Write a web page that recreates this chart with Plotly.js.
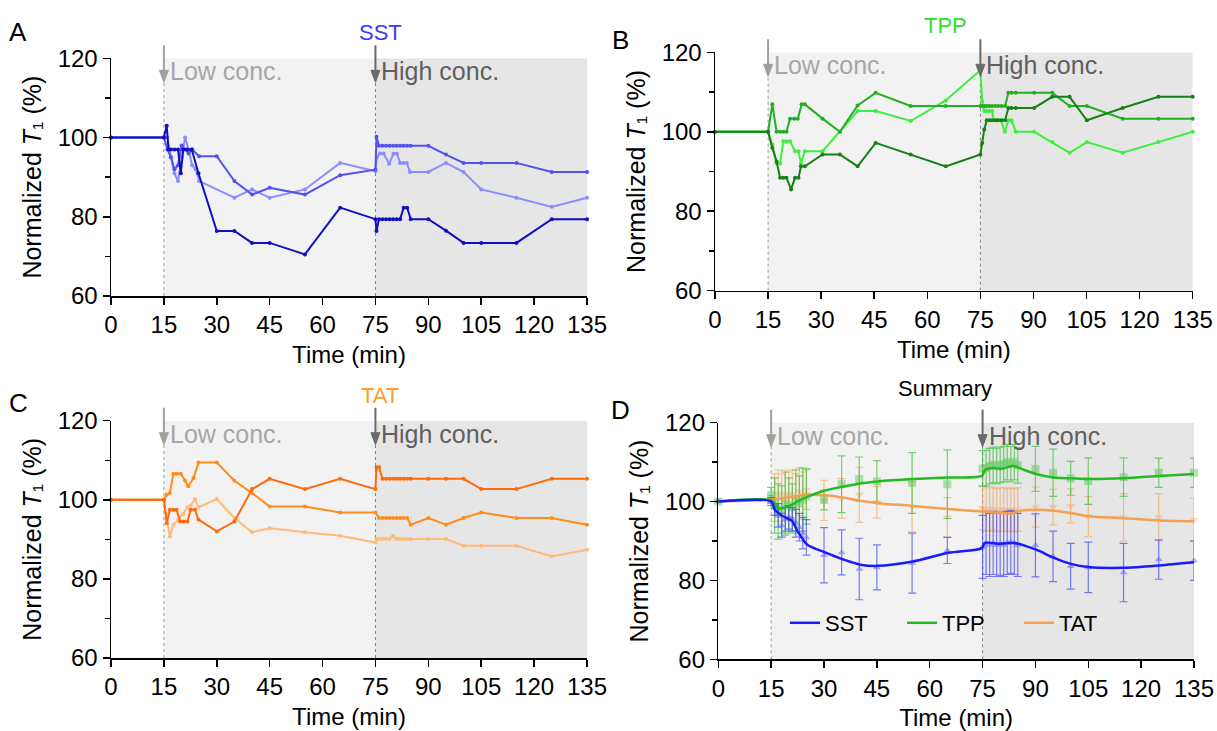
<!DOCTYPE html>
<html>
<head>
<meta charset="utf-8">
<script src="https://cdn.plot.ly/plotly-3.0.1.min.js"></script>
<style>html,body{margin:0;padding:0;background:#fff;}#chart{width:1217px;height:731px;}</style>
</head>
<body>
<div id="chart"></div>
<script>
// ---------------- DATA ----------------
// Panel A (SST individual)
const sstA1_t = [0,15,15.8,16.3,17,18,19,19.8,20.5,21.6,22.9,24.8,30,35,40,45,55,65,75,75.3,76,77,78,79,80,81,82,83,84,85,90,95,100,105,115,125,135];
const sstA1_v = [100,100,103,97,97,97,97,91,97,97,97,91,76.4,76.4,73.4,73.4,70.5,82.3,79.4,76.4,79.4,79.4,79.4,79.4,79.4,79.4,79.4,82.3,82.3,79.4,79.4,76.5,73.4,73.4,73.4,79.4,79.4];
const sstA2_t = [0,15,16,17,18,19,20,21,22,23,25,30,35,40,45,55,65,75,75.3,76,77,78,79,80,81,82,83,84,85,90,95,100,105,115,125,135];
const sstA2_v = [100,100,97,95,92,93,98,97,96,97,95.3,95.3,89,85.6,87.3,85.6,90.5,91.9,100.2,97.9,97.9,97.9,97.9,97.9,97.9,97.9,97.9,97.9,97.9,97.9,95.7,93.6,93.6,93.6,91.3,91.3];
const sstA3_t = [0,15,16,17,18,19,20,21,22,23,24,25,35,40,45,55,65,75,75.4,76.3,77.3,78.9,80.1,81.1,82,83,83.9,84.8,90,95,100,105,115,125,135];
const sstA3_v = [100,100,100,95,91,89,95,100,97,93,92,89,84.8,86.9,84.8,86.9,93.6,91.5,95.1,96,96,93.4,95.9,95.9,93.6,93.6,93.6,91.3,91.3,93.6,91.3,86.9,84.8,82.5,84.8];

// Panel B (TPP individual)
const tppB1_t = [0,15,16.2,17.4,18.4,19.3,20.2,21.5,22.6,23.6,24.3,25.4,30.4,35.3,40.3,45.4,55.3,65.2,75,75.5,76.1,76.8,77.5,78.3,79.2,80,81,82,82.9,83.8,85,90.2,95.3,100.2,105.1,115.2,125.3,135];
const tppB1_v = [100,100,96,92.5,88.4,88.4,88.4,85.5,88.4,88.4,91.3,91.3,94.3,94.3,91.3,97.2,94.3,91.3,94.3,97.2,100.6,102.9,102.9,102.9,102.9,102.9,102.9,102.9,106,106,106,106,108.8,108.8,102.9,106,108.8,108.8];
const tppB2_t = [0,15,16.2,17.4,18.4,19.3,20.2,21.2,22.4,23.4,24.5,25.4,30.4,35.3,40.3,45.4,55.3,65.2,75,75.5,76.1,76.8,77.5,78.3,79.2,80,81,82,82.9,83.8,85,90.2,95.3,100.2,105.1,115.2,125.3,135];
const tppB2_v = [100,100,106.9,100,100,100,100,103.3,103.3,103.3,106.9,106.9,103.3,100,106.6,109.8,106.5,106.5,106.5,106.5,106.5,106.5,106.5,106.5,106.5,106.5,106.5,106.5,109.8,109.8,109.8,109.8,109.8,106.5,106.5,103.3,103.3,103.3];
const tppB3_t = [0,15,16.2,17.4,18.4,19.3,20.2,21.2,22.6,23.6,24.3,25.4,30.4,35.3,40.3,45.4,55.3,65.2,75,75.5,76.1,76.8,77.5,78.3,78.8,79.8,80.8,81.9,82.9,83.8,85,90.2,95.3,100.2,105.1,115.2,125.3,135];
const tppB3_v = [100,100,96.8,92,92,97.6,97.6,97.6,95.1,95.1,92,95.1,95.1,100,105.2,105.2,102.7,107.9,115.5,107.7,105.2,105.2,105.2,105.2,102.9,102.9,102.9,100,102.9,102.9,100,100,97.4,94.7,97.4,94.7,97.4,100];

// Panel C (TAT individual)
const tatC1_t = [0,15,15.8,16.7,17.7,18.6,19.6,20.6,21.7,22.6,23.8,24.8,30,35,40,45,55,65,75,75.3,76,77,78,79,80,81,82,83,84,85,90,95,100,105,115,125,135];
const tatC1_v = [100,100,94.1,97.5,97.5,97.5,94.5,94.5,94.5,97.5,97.5,95,92,94.5,102.7,105.3,102.7,105.3,102.7,108.2,108.2,105.3,105.3,105.3,105.3,105.3,105.3,105.3,105.3,105.3,105.3,105.3,105.3,102.7,102.7,105.3,105.3];
const tatC2_t = [0,15,15.8,16.7,17.7,18.6,19.8,21,21.9,23.4,24.8,30,35,40,45,55,65,75,76,77,78,79,80,81,82,83,84,85,90,95,100,105,115,125,135];
const tatC2_v = [100,100,101.3,101.7,106.6,106.6,106.6,104.9,103.4,105.5,109.4,109.4,104.8,101.7,98.3,98.3,96.8,96.8,95.4,95.4,95.4,95.4,95.4,95.4,95.4,95.4,95.4,93.7,95.4,93.7,95.4,96.8,95.4,95.4,93.7];
const tatC3_t = [0,15,16.7,17.7,19.1,20.5,21.7,22.6,23.8,24.8,30,35,40,45,55,65,75,75.3,76,77,78,79,80,81,82,83,84,85,90,95,100,105,115,125,135];
const tatC3_v = [100,100,90.7,93.7,95,96.5,98.1,98.5,100.2,98.1,100.2,95.4,91.8,92.8,91.8,90.9,89.2,90.1,90.1,90.1,90.1,90.1,90.9,90.1,90.1,90.1,90.1,90.1,90.1,90.1,88.4,88.4,88.4,85.7,87.4];

// Panel D (Summary: mean ± SD and fitted curves)
const sumT = [0,15,16,17,18,19,20,21,22,23,24,25,30,35,40,45,55,65,75,76,77,78,79,80,81,82,83,84,85,90,95,100,105,115,125,135];
const sstMean = [100,100,98.5,96.5,94,95.5,96,95.5,94.5,93.5,92,90.9,86.4,87.1,82.9,83.3,84.4,87.6,88.5,89.5,89,89.5,89,89.3,89,89.5,89.8,89.5,89,88.9,86.1,83.6,83.3,82,85.3,85];
const sstSD   = [0,1,2,3,3,3,3,3,3.5,3.5,4,4.5,7,5.7,7.8,5.7,7.6,3.3,8,8,8,8,8,8,8,8,8,8,8,8,6.4,5.8,6.4,7.4,5,5];
const tppMean = [100,101.6,99,97.5,98,99.5,99,98.5,100,99.5,100.5,101.3,100.4,104.4,105.7,105.1,104.7,104.4,108.4,108.5,109,109.3,109,109.3,109.5,110,109.5,110,109.2,108.3,107.3,105.9,105.2,106.2,107.3,107.3];
const tppSD   = [0,2,7,7,6,8,7,6,8,7,8,7,2.5,7.2,5.6,5.3,7.7,8.7,4.5,4.5,4.5,4.5,4.5,4.5,4.5,4.5,4.5,4.5,4.5,5.7,6,4.3,5.9,4.9,3.7,3.7];
const tatMean = [100,100.5,101,102,101,102,101.5,102,101,102.5,101.5,103,100.3,100.8,101.7,99.8,98.7,96,98.4,98,98,98.2,97.8,98,98,97.8,98,97.8,98,98.6,98.6,98.9,96.2,96,96,95.4];
const tatSD   = [0,1,6,6,6,6,6,6,6,6,6,5,5.1,5,7,4,6.3,5,5.5,5.5,5.5,5.5,5.5,5.5,5.5,5.5,5.5,5.5,5.5,5.1,4.5,4.3,5.1,6,6,5.5];

const sstFit_t = [0,15,16,17.8,21,22.3,25.2,30.3,35.5,40.3,45.2,55.2,65.3,74.8,75.7,80,84,90.2,95.1,100.1,105,115.1,125.2,135];
const sstFit_v = [100,100,98,96.6,95,92.8,89.1,87.1,85.3,84,83.7,84.8,87,88.2,89.5,89.3,89.5,87.8,85.8,84.2,83.4,83.2,83.8,84.6];
const tppFit_t = [0,15,17.3,20.2,23,25.2,30.3,35.5,40.3,45.2,55.2,65.3,74.8,75.7,78,80.5,83.6,86,90.2,95.1,100.1,105,115.1,125.2,135];
const tppFit_v = [100,100.3,98.3,98.9,100.3,101.2,102.8,103.8,104.6,105.1,105.7,106.1,106.5,108,108.5,108.3,109.1,108.3,107,106.1,105.9,105.7,105.9,106.5,107];
const tatFit_t = [0,15,19.4,25,30.3,35.5,40.3,45.2,55.2,65.3,74.8,80,83,86,90.2,95.1,100,105,115,125,135];
const tatFit_v = [100,100.5,101,101.7,101.6,101,100.2,99.6,98.9,98.1,97.5,97.1,96.9,97.7,97.9,97.7,97.1,96.3,95.8,95.2,95];

const xTicks = [0,15,30,45,60,75,90,105,120,135];
const yTicks = [60,80,100,120];
const seriesNames = ['SST','TPP','TAT'];
const panelTitles = ['SST','TPP','TAT','Summary'];
const panelLetters = ['A','B','C','D'];
const phaseStarts = [15, 75];
const xTitle = 'Time (min)';
const yTitle = 'Normalized <i>T</i>\u2081 (%)';

// ---------------- LAYOUT HELPERS ----------------
const W = 1217, H = 731;
const FONT = 'Arial, "Liberation Sans", Helvetica, sans-serif';
const px = x => x / W;
const py = y => 1 - y / H;
// plot boxes in pixels [left, right, top, bottom]
const boxes = [[111,587,58.3,296],[715,1192.7,52.3,290.7],[111,587,420.7,658],[718.3,1194,422.7,659.3]];

const traces = [];
function lineTrace(t, v, color, ax) {
  traces.push({x:t, y:v, type:'scatter', mode:'lines+markers', xaxis:'x'+ax, yaxis:'y'+ax,
    line:{color:color, width:2}, marker:{color:color, size:4}, showlegend:false, cliponaxis:false, hoverinfo:'skip'});
}
lineTrace(sstA3_t, sstA3_v, '#8c8cff', '');
lineTrace(sstA2_t, sstA2_v, '#5252f0', '');
lineTrace(sstA1_t, sstA1_v, '#1010c0', '');
lineTrace(tppB3_t, tppB3_v, '#3cf03c', '2');
lineTrace(tppB2_t, tppB2_v, '#22b022', '2');
lineTrace(tppB1_t, tppB1_v, '#178017', '2');
lineTrace(tatC3_t, tatC3_v, '#ffbb77', '3');
lineTrace(tatC2_t, tatC2_v, '#ff8c1a', '3');
lineTrace(tatC1_t, tatC1_v, '#ff6a0a', '3');

function meanTrace(mean, sd, color, symbol, size) {
  traces.push({x:sumT, y:mean, type:'scatter', mode:'markers', xaxis:'x4', yaxis:'y4',
    marker:{color:color, symbol:symbol, size:size, opacity:0.6},
    error_y:{type:'data', array:sd, visible:true, color:color, thickness:1.2, width:4},
    opacity:0.6, showlegend:false, cliponaxis:false, hoverinfo:'skip'});
}
meanTrace(tatMean, tatSD, '#f5a050', 'triangle-down', 8);
meanTrace(tppMean, tppSD, '#22bb22', 'square', 8);
meanTrace(sstMean, sstSD, '#2a2aff', 'triangle-up', 7);

function fitTrace(t, v, color, name, rank) {
  traces.push({x:t, y:v, type:'scatter', mode:'lines', xaxis:'x4', yaxis:'y4', name:name,
    line:{color:color, width:2.5, shape:'spline', smoothing:0.8}, legendrank:rank, hoverinfo:'skip'});
}
fitTrace(tatFit_t, tatFit_v, '#f5a050', seriesNames[2], 3);
fitTrace(tppFit_t, tppFit_v, '#22bb22', seriesNames[1], 2);
fitTrace(sstFit_t, sstFit_v, '#1a1aff', seriesNames[0], 1);

const layout = {
  width: W, height: H, margin:{l:0,r:0,t:0,b:0,pad:0},
  paper_bgcolor:'#ffffff', plot_bgcolor:'#ffffff',
  font:{family:FONT, size:24, color:'#000'},
  showlegend:true,
  legend:{orientation:'h', x:px(785), y:py(623), xanchor:'left', yanchor:'middle',
    bgcolor:'rgba(0,0,0,0)', font:{size:22, family:FONT}, entrywidth:72, entrywidthmode:'pixels', traceorder:'normal'},
  shapes:[], annotations:[]
};

const suffix = ['', '2', '3', '4'];
const arrowColors = ['#a0a0a0', '#6a6a6a'];
const phaseTexts = ['Low conc.', 'High conc.'];
const phaseTextColors = ['#a6a6a6', '#5f5f5f'];
boxes.forEach((b, i) => {
  const s = suffix[i];
  layout['xaxis'+s] = {domain:[px(b[0]), px(b[1])], anchor:'y'+s, range:[0,135], tickmode:'array', tickvals:xTicks,
    ticks:'outside', ticklen:7, tickwidth:1.5, tickcolor:'#000', showline:true, linecolor:'#000', linewidth:1.5,
    showgrid:false, zeroline:false, tickfont:{size:24, family:FONT}, fixedrange:true,
    title:{text:xTitle, font:{size:24, family:FONT, color:'#000'}, standoff:9}};
  layout['yaxis'+s] = {domain:[py(b[3]), py(b[2])], anchor:'x'+s, range:[60,120], tickmode:'array', tickvals:yTicks,
    ticks:'outside', ticklen:7, tickwidth:1.5, tickcolor:'#000', showline:true, linecolor:'#000', linewidth:1.5,
    showgrid:false, zeroline:false, tickfont:{size:24, family:FONT}, fixedrange:true,
    title:{text:yTitle, font:{size:25, family:FONT, color:'#000'}, standoff:9},
    minor:{tickmode:'linear', tick0:0, dtick:10, ticks:'outside', ticklen:5, tickwidth:1.5, tickcolor:'#000', showgrid:false}};
  const xr = 'x'+s, yr = 'y'+s;
  layout.shapes.push({type:'rect', xref:xr, yref:yr, x0:15, x1:75, y0:60, y1:120, fillcolor:'#f2f2f2', line:{width:0}, layer:'below'});
  layout.shapes.push({type:'rect', xref:xr, yref:yr, x0:75, x1:135, y0:60, y1:120, fillcolor:'#e6e6e6', line:{width:0}, layer:'below'});
  phaseStarts.forEach((ps, k) => {
    layout.shapes.push({type:'line', xref:xr, yref:yr, x0:ps, x1:ps, y0:60, y1:120, line:{color:k ? '#808080' : '#9a9a9a', width:1, dash:'dot'}, layer:'below'});
    // arrow (paper coordinates, pixel geometry)
    const ax = b[0] + (b[1] - b[0]) * ps / 135;
    const top = b[2];
    layout.shapes.push({type:'line', xref:'paper', yref:'paper', x0:px(ax), x1:px(ax), y0:py(top - 13), y1:py(top + 14),
      line:{color:arrowColors[k], width:2}});
    layout.shapes.push({type:'path', xref:'paper', yref:'paper',
      path:'M' + px(ax - 4.5) + ',' + py(top + 12) + ' L' + px(ax + 4.5) + ',' + py(top + 12) + ' L' + px(ax) + ',' + py(top + 24) + ' Z',
      fillcolor:arrowColors[k], line:{color:arrowColors[k], width:1}});
    layout.annotations.push({xref:xr, yref:yr, x:ps, y:120, xanchor:'left', yanchor:'middle', xshift:4, yshift:-13,
      text:phaseTexts[k], showarrow:false, font:{size:25, color:phaseTextColors[k], family:FONT}});
  });
});

// Titles and panel letters (paper positions)
const titleColors = ['#3a3aff','#33dd33','#ff9933','#000000'];
const titlePos = [[380,32],[945,25],[380,395],[945,388]];
const letterPos = [[18,32],[620,40],[18,403],[620,410]];
for (let i = 0; i < 4; i++) {
  layout.annotations.push({xref:'paper', yref:'paper', x:px(titlePos[i][0]), y:py(titlePos[i][1]), xanchor:'center', yanchor:'middle', showarrow:false,
    text:panelTitles[i], font:{size:22, color:titleColors[i], family:FONT}});
  layout.annotations.push({xref:'paper', yref:'paper', x:px(letterPos[i][0]), y:py(letterPos[i][1]), xanchor:'center', yanchor:'middle', showarrow:false,
    text:panelLetters[i], font:{size:26, color:'#000', family:FONT}});
}

Plotly.newPlot('chart', traces, layout, {displayModeBar:false, staticPlot:true});
</script>
</body>
</html>
